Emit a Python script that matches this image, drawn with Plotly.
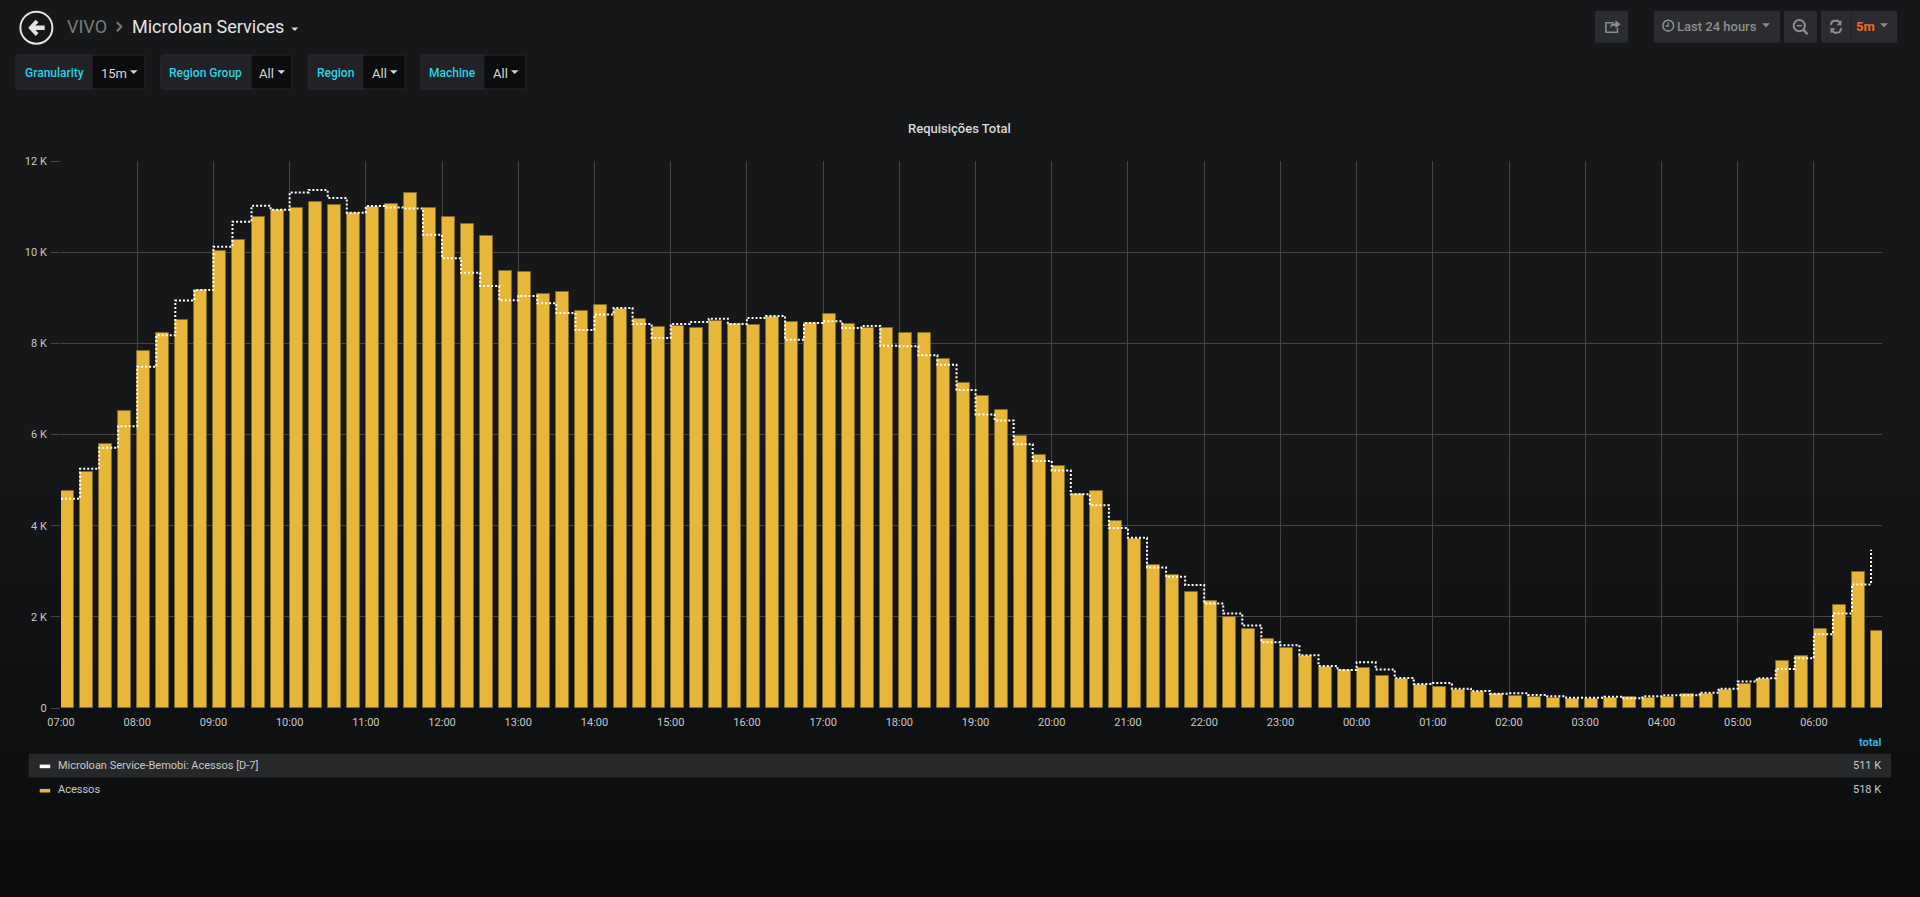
import pandas as pd
import plotly.graph_objects as go

W, H = 1920, 897
L, R, T, B = 61.3, 1882.0, 161.3, 708.3

# ---------- data ----------
TITLE = "Requisições Total"
SERIES_D7 = "Microloan Service-Bemobi: Acessos [D-7]"
SERIES_CUR = "Acessos"
TOTAL_D7 = "511 K"
TOTAL_CUR = "518 K"
times = pd.date_range("2019-01-01 07:00", periods=96, freq="15min")
acessos = [4762, 5172, 5795, 6513, 7824, 8220, 8506, 9179, 10029, 10264, 10762, 10930,
           10967, 11092, 11026, 10850, 10982, 11048, 11289, 10960, 10769, 10615, 10359, 9582,
           9560, 9077, 9121, 8703, 8835, 8755, 8527, 8366, 8388, 8330, 8491, 8425,
           8403, 8579, 8462, 8454, 8645, 8425, 8330, 8344, 8220, 8220, 7656, 7128,
           6842, 6542, 5963, 5560, 5304, 4689, 4769, 4110, 3714, 3143, 2923, 2549,
           2337, 2007, 1744, 1516, 1326, 1150, 908, 828, 872, 703, 630, 505,
           454, 403, 359, 300, 264, 249, 220, 205, 190, 212, 242, 220,
           249, 308, 300, 403, 527, 630, 1033, 1143, 1729, 2256, 2982, 1700]
acessos_d7 = [4593, 5246, 5707, 6183, 7487, 8176, 8938, 9172, 10117, 10667, 11018, 10930,
              11311, 11363, 11187, 10864, 11011, 10982, 10960, 10381, 9868, 9546, 9260, 8945,
              9040, 8879, 8667, 8293, 8630, 8777, 8425, 8117, 8425, 8469, 8542, 8425,
              8557, 8601, 8081, 8447, 8484, 8337, 8381, 7949, 7934, 7736, 7531, 6974,
              6440, 6308, 5788, 5421, 5209, 4689, 4447, 3949, 3736, 3084, 2879, 2696,
              2293, 2073, 1810, 1443, 1377, 1157, 923, 835, 1004, 842, 659, 527,
              549, 425, 374, 315, 322, 286, 256, 227, 227, 249, 212, 256,
              278, 278, 337, 425, 579, 652, 857, 1092, 1619, 2073, 2711, 3473]
y_tick_vals = [0, 2000, 4000, 6000, 8000, 10000, 12000]
y_tick_text = ["0", "2 K", "4 K", "6 K", "8 K", "10 K", "12 K"]
hour_ticks = pd.date_range("2019-01-01 07:00", periods=24, freq="1h")
hour_labels = [t.strftime("%H:%M") for t in hour_ticks]
filters = [("Granularity", "15m"), ("Region Group", "All"), ("Region", "All"), ("Machine", "All")]
assert len(acessos) == 96 and len(acessos_d7) == 96

# ---------- pixel helpers for page chrome ----------
def fx(x): return (x - L) / (R - L)
def fy(y): return (B - y) / (B - T)

shapes, annos = [], []

def rect(x0, y0, x1, y1, fill, line=None, r=0):
    if r:
        p = [f"M{fx(x0+r)},{fy(y0)}", f"L{fx(x1-r)},{fy(y0)}", f"Q{fx(x1)},{fy(y0)} {fx(x1)},{fy(y0+r)}",
             f"L{fx(x1)},{fy(y1-r)}", f"Q{fx(x1)},{fy(y1)} {fx(x1-r)},{fy(y1)}",
             f"L{fx(x0+r)},{fy(y1)}", f"Q{fx(x0)},{fy(y1)} {fx(x0)},{fy(y1-r)}",
             f"L{fx(x0)},{fy(y0+r)}", f"Q{fx(x0)},{fy(y0)} {fx(x0+r)},{fy(y0)}", "Z"]
        shapes.append(dict(type="path", path=" ".join(p), xref="paper", yref="paper", fillcolor=fill,
                           line=dict(color=line or fill, width=1 if line else 0), layer="below"))
    else:
        shapes.append(dict(type="rect", x0=fx(x0), x1=fx(x1), y0=fy(y0), y1=fy(y1), xref="paper", yref="paper",
                           fillcolor=fill, line=dict(width=0), layer="below"))

def poly(pts, color, width=0, fill=None, close=False, layer="above"):
    d = "M" + " L".join(f"{fx(a)},{fy(b)}" for a, b in pts) + (" Z" if close else "")
    shapes.append(dict(type="path", path=d, xref="paper", yref="paper", fillcolor=fill,
                       line=dict(color=color, width=width), layer=layer))

def circle(cx, cy, r, color, width, fill=None):
    shapes.append(dict(type="circle", x0=fx(cx-r), x1=fx(cx+r), y0=fy(cy-r), y1=fy(cy+r), xref="paper", yref="paper",
                       fillcolor=fill, line=dict(color=color, width=width), layer="above"))

def text(x, y, s, size=12, color="#d8d9da", anchor="left", weight=None):
    f = dict(family="Roboto", size=size, color=color)
    if weight: f["weight"] = weight
    annos.append(dict(x=fx(x), y=fy(y), xref="paper", yref="paper", text=s, showarrow=False, xanchor=anchor,
                      yanchor="middle", align=anchor, font=f, xshift=0, yshift=0, borderpad=0, borderwidth=0))

def caret(cx, cy, color, w=4.0, h=4.0):
    poly([(cx-w, cy-h/2), (cx+w, cy-h/2), (cx, cy+h/2)], color, 0, color, True)

# page background: flat, then fading towards the bottom
top, bot = (0x16, 0x17, 0x19), (0x0b, 0x0c, 0x0e)
start, n = 430, 11
for i in range(n + 1):
    c = tuple(round(top[k] + (bot[k] - top[k]) * i / n) for k in range(3))
    y0 = 0 if i == 0 else start + (H - start) * (i - 0.5) / n
    y1 = H if i == n else start + (H - start) * (i + 0.5) / n
    rect(0, y0, W, y1, "#%02x%02x%02x" % c)

# back button + breadcrumb
circle(36.7, 28, 16, "#e3e4e5", 2)
poly([(28.5, 28), (36, 20), (38.8, 22.8), (35.6, 25.8), (45, 25.8), (45, 30.4), (35.6, 30.4), (38.8, 33.4), (36, 36.2)],
     "#e3e4e5", 0, "#e3e4e5", True)
text(67, 27, "VIVO", 18, "#7b7b7b")
poly([(117.2, 22.5), (121.6, 27), (117.2, 31.5)], "#7b7b7b", 2)
text(132.5, 27, "Microloan Services", 18, "#e3e4e5")
caret(295, 29.5, "#d8d9da", 3.5, 3.5)

# template variable pills
pill = [(16.3, 93, 145.3, 25.3, 100.8, 134), (161, 252, 292, 169.4, 259.6, 281.6),
        (308.6, 363.7, 405.3, 317.6, 372, 394), (421, 484.5, 526, 429, 493, 515)]
for (name, val), (x0, xm, x1, xt, xv, xc) in zip(filters, pill):
    rect(x0, 55.3, x1, 89.3, "#202226", "#292a2d", 3)
    rect(xm, 55.8, x1 - .5, 88.8, "#0b0c0e", None, 2)
    text(xt, 73, name, 12, "#2fd0e2", weight=500)
    text(xv, 73.5, val, 13, "#d8d9da")
    caret(xc, 72.5, "#d8d9da", 3.8, 3.8)

# right toolbar
BTN = "#2b2c2f"
for x0, x1 in [(1595, 1628), (1654, 1780), (1784, 1817), (1821, 1897)]:
    rect(x0, 11, x1, 43, BTN, None, 2)
poly([(1851, 11), (1851, 43)], "#222325", 1)
ICON = "#8e8e8e"
# share
poly([(1614, 23), (1606, 23), (1606, 32.5), (1617.5, 32.5), (1617.5, 28)], "#7f8b96", 1.6)
poly([(1610, 29), (1611, 24.5), (1615.5, 23.5), (1615.5, 20.5), (1620.5, 24.5), (1615.5, 28.5), (1615.5, 26), (1612, 26.2)],
     ICON, 0, ICON, True)
# clock
circle(1668.3, 26, 5.4, ICON, 1.6)
poly([(1668.3, 22.5), (1668.3, 26.3), (1665.5, 26.3)], ICON, 1.3)
text(1677.5, 27, "Last 24 hours", 13, ICON, weight=500)
caret(1766, 25.5, ICON, 4, 4)
# zoom out
circle(1799.3, 26, 5.6, ICON, 2)
poly([(1796.7, 26), (1801.9, 26)], ICON, 1.5)
poly([(1803.5, 30.2), (1807.5, 34.5)], ICON, 2.4)
# refresh
poly([(1830.5, 25), (1832.5, 21.5), (1837, 20.8), (1840.5, 23)], ICON, 2)
poly([(1841.5, 20), (1841.5, 25.5), (1836.5, 25.5)], ICON, 0, ICON, True)
poly([(1841.5, 28.5), (1839.5, 32.5), (1835, 33.2), (1831.5, 31)], ICON, 2)
poly([(1830.5, 34), (1830.5, 28.5), (1835.5, 28.5)], ICON, 0, ICON, True)
text(1856.5, 27, "5m", 13, "#f26a21", weight=700)
caret(1884, 25.5, ICON, 4, 4)

# panel title
text(960, 129, TITLE, 13, "#d8d9da", "center", weight=500)

# table legend
rect(29, 754, 1891, 777.7, "#27282a")
poly([(40, 766.7), (50.5, 766.7)], "#ffffff", 3.6)
poly([(40, 791), (50.5, 791)], "#eab839", 3.6)
text(58, 765.5, SERIES_D7, 11, "#c8c9ca")
text(58, 789.8, SERIES_CUR, 11, "#c8c9ca")
text(1881, 743, "total", 11, "#33b5e5", "right", weight=700)
text(1881, 765.5, TOTAL_D7, 11, "#c8c9ca", "right")
text(1881, 789.8, TOTAL_CUR, 11, "#c8c9ca", "right")

# ---------- figure ----------
fig = go.Figure()
fig.add_trace(go.Bar(x=times, y=acessos, name=SERIES_CUR, offset=0, width=614000,
                     marker=dict(color="#e8b739", line=dict(color="rgba(130,105,40,0.9)", width=1))))
fig.add_trace(go.Scatter(x=times, y=acessos_d7, name=SERIES_D7, mode="lines",
                         line=dict(color="#ffffff", width=2, shape="hv", dash="2px,2px")))

GRID = "#434446"
x_end = times[0] + pd.Timedelta(hours=(R - L) / 76.2)
fig.update_layout(
    width=W, height=H, showlegend=False, paper_bgcolor="#161719", plot_bgcolor="rgba(0,0,0,0)",
    margin=dict(l=L, r=W - R, t=T, b=H - B, pad=0, autoexpand=False),
    font=dict(family="Roboto", size=11, color="#c7c8c9"), shapes=shapes, annotations=annos,
    xaxis=dict(type="date", range=[times[0], x_end], tickmode="array", tickvals=hour_ticks, ticktext=hour_labels,
               showgrid=True, gridcolor=GRID, gridwidth=1, ticks="", ticklabelstandoff=6, showline=False, zeroline=False,
               tickfont=dict(size=11, color="#c7c8c9")),
    yaxis=dict(range=[0, 12000], tickmode="array", tickvals=y_tick_vals, ticktext=y_tick_text,
               showgrid=True, gridcolor=GRID, gridwidth=1, ticks="outside", ticklen=9, tickcolor=GRID, tickwidth=1,
               ticklabelstandoff=2, zeroline=False, showline=False, tickfont=dict(size=11, color="#c7c8c9")),
    bargap=0,
)
fig.write_html("out.html", config=dict(displayModeBar=False),
               post_script="document.body.style.margin='0';document.body.style.overflow='hidden';document.body.style.background='#0b0c0e';")
